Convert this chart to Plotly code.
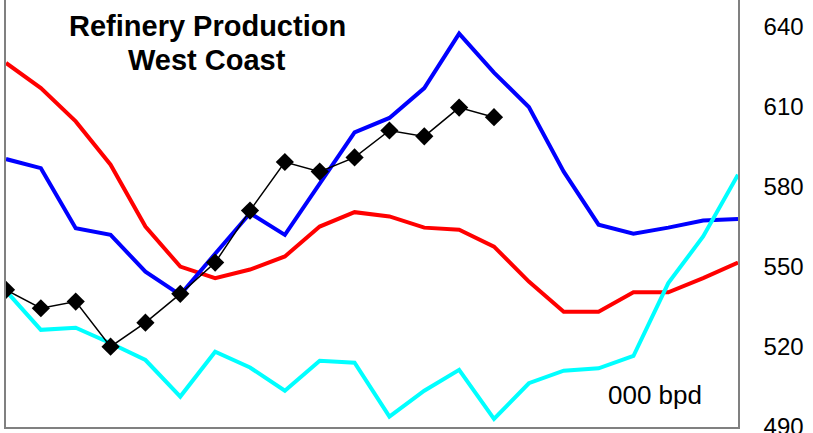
import plotly.graph_objects as go

x_idx = list(range(22))

red = [626.4, 617.0, 604.5, 588.3, 565.1, 550.1, 545.8, 549.0, 553.9, 565.1, 570.5,
       568.9, 564.7, 563.9, 557.6, 544.5, 533.2, 533.2, 540.5, 540.5, 545.8, 551.6]
blue = [590.4, 587.0, 564.5, 562.0, 548.2, 539.5, 554.9, 570.1, 562.0, 581.4, 600.4,
        605.8, 617.0, 637.4, 622.8, 609.9, 585.7, 565.8, 562.4, 564.7, 567.4, 567.9]
cyan = [541.0, 526.4, 527.2, 521.4, 515.1, 501.4, 518.2, 512.3, 503.6, 514.8, 514.1,
        493.9, 503.6, 511.4, 493.0, 506.4, 511.1, 512.0, 516.6, 543.9, 561.4, 584.5]
black = [541.4, 534.5, 537.0, 520.1, 529.1, 539.9, 551.6, 571.1, 589.3, 585.7, 591.0,
         601.1, 598.9, 609.7, 606.1]

y_ticks = [490, 520, 550, 580, 610, 640]
title_lines = ["Refinery Production", "West Coast"]

fig = go.Figure()
fig.add_trace(go.Scatter(x=x_idx, y=red, mode="lines",
                         line=dict(color="#FF0000", width=4), showlegend=False))
fig.add_trace(go.Scatter(x=x_idx, y=blue, mode="lines",
                         line=dict(color="#0000FF", width=4), showlegend=False))
fig.add_trace(go.Scatter(x=x_idx, y=cyan, mode="lines",
                         line=dict(color="#00FFFF", width=4), showlegend=False))
fig.add_trace(go.Scatter(x=x_idx[:len(black)], y=black, mode="lines+markers",
                         line=dict(color="#000000", width=1.5),
                         marker=dict(symbol="diamond", size=14, color="#000000"),
                         showlegend=False))

for txt, yy in zip(title_lines, [0.982, 0.902]):
    fig.add_annotation(text="<b>" + txt + "</b>",
                       xref="paper", yref="paper", x=0.275, y=yy,
                       xanchor="center", yanchor="top", showarrow=False,
                       font=dict(family="Liberation Sans, Arial", size=29, color="#000000"))
fig.add_annotation(text="000 bpd", xref="paper", yref="paper", x=0.953, y=0.035,
                   xanchor="right", yanchor="bottom", showarrow=False,
                   font=dict(family="Liberation Sans, Arial", size=26, color="#000000"))

fig.update_layout(
    width=813, height=433,
    margin=dict(l=6, r=75, t=0, b=6),
    paper_bgcolor="white", plot_bgcolor="white",
    xaxis=dict(range=[0, 21], showgrid=False, zeroline=False, showticklabels=False,
               ticks="", showline=True, linecolor="#808080", linewidth=1.5,
               automargin=False),
    yaxis=dict(range=[490, 650], side="right", tickvals=y_ticks,
               showgrid=False, zeroline=False, ticks="",
               showline=True, mirror=True, linecolor="#808080", linewidth=1.5,
               ticklabelstandoff=19, ticklabeloverflow="allow", automargin=False,
               tickfont=dict(family="Liberation Sans, Arial", size=24, color="#000000")),
)

fig.write_html("out.html", config={"displayModeBar": False},
               post_script="document.body.style.margin='0px';")
